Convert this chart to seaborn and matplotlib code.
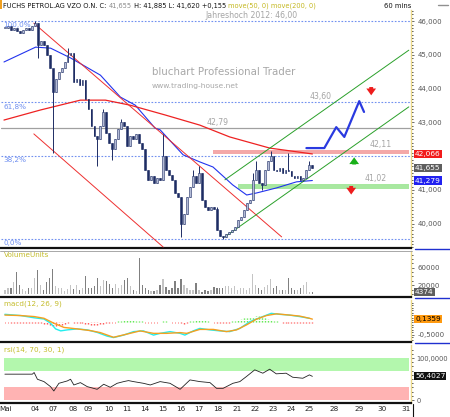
import numpy as np
import seaborn as sns
import matplotlib.pyplot as plt
from matplotlib.lines import Line2D
from matplotlib.patches import Rectangle

sns.set_theme(style="white")
plt.rcParams['font.family'] = ['DejaVu Sans']
plt.rcParams['font.size'] = 5

# ---- Kursdaten: Stundenkerzen, 6 pro Handelstag ----
close = [
    45.80, 45.85, 45.75, 45.80, 45.70, 45.65, 45.75, 45.80, 45.75, 45.85,
    45.95, 45.30, 45.40, 45.30, 45.00, 44.60, 43.90, 44.30, 44.50, 44.60,
    44.80, 45.00, 45.05, 44.20, 44.30, 44.10, 44.25, 43.70, 43.40, 42.90,
    42.60, 42.50, 42.90, 43.30, 42.70, 42.40, 42.20, 42.50, 42.80, 43.00,
    42.90, 42.30, 42.60, 42.50, 42.65, 42.40, 42.20, 41.60, 41.30, 41.40,
    41.20, 41.35, 41.30, 42.00, 41.60, 41.45, 41.30, 40.90, 40.80, 40.00,
    40.30, 40.80, 41.10, 41.40, 41.20, 41.50, 40.70, 40.50, 40.40, 40.50,
    40.45, 39.80, 39.65, 39.60, 39.70, 39.75, 39.80, 39.90, 40.10, 40.20,
    40.40, 40.60, 40.70, 41.30, 41.60, 41.20, 41.15, 41.60, 41.85, 42.00,
    41.60, 41.55, 41.65, 41.50, 41.60, 41.55, 41.40, 41.35, 41.40, 41.30,
    41.35, 41.60, 41.75, 41.655]
first_open = 45.80
wick_hi = {10: 46.00, 16: 44.20, 21: 45.20, 33: 43.40, 39: 43.10, 53: 42.65,
           63: 41.60, 65: 41.70, 71: 40.50, 83: 41.50, 84: 41.85, 89: 42.15,
           95: 42.10, 102: 41.85}
wick_lo = {11: 44.90, 16: 42.10, 31: 41.70, 36: 41.90, 59: 39.60, 73: 39.55,
           86: 41.00, 100: 41.25}

volume = [10, 13, 13, 28, 50, 20, 12, 6, 13, 13,
          37, 55, 21, 8, 28, 36, 56, 18, 13, 13,
          6, 12, 20, 12, 21, 8, 13, 40, 13, 13,
          18, 37, 18, 32, 29, 23, 13, 23, 13, 21,
          32, 36, 18, 8, 6, 82, 20, 13, 8, 6,
          6, 10, 21, 34, 16, 10, 13, 29, 13, 35,
          21, 13, 8, 10, 24, 10, 5, 8, 6, 8,
          16, 13, 13, 13, 18, 18, 13, 18, 8, 13,
          13, 8, 13, 45, 20, 13, 8, 16, 20, 34,
          13, 18, 10, 8, 10, 37, 13, 10, 8, 13,
          20, 28, 5, 4.374]  # Tausend Stueck

# gleitende Durchschnitte
ma50_x = [-0.3, 10.3, 15.3, 22, 32, 38.7, 43.7, 50.3, 52, 59.7, 65.3, 69.7,
          76.3, 81, 84.3, 91, 97.7, 103]
ma50 = [44.79, 45.23, 45.20, 44.91, 44.40, 43.75, 43.51, 42.83, 42.78, 42.04,
        41.83, 41.68, 41.15, 40.85, 40.91, 41.06, 41.24, 41.279]
ma200_x = [-0.3, 12, 25.3, 33.7, 42, 53.7, 65.3, 75.3, 88.7, 103]
ma200 = [43.07, 43.37, 43.66, 43.66, 43.51, 43.22, 42.92, 42.57, 42.24, 42.066]

# Trendkanaele
red_x = [9.7, 92.7]
red_upper = [45.94, 39.61]
red_lower_x = [9.7, 53]
red_lower = [42.66, 39.31]
green_x = [73.7, 135.3]
green_upper = [41.30, 45.14]
green_lower = [39.61, 43.46]

# Fibonacci / Marken
fib_levels = [46.00, 43.60, 42.02, 39.55]
fib_labels = ["100,0%", "61,8%", "38,2%", "0,0%"]
line_4279 = 42.84
resist_band = (42.07, 42.19)
support_band = (41.04, 41.17)
forecast_x = [101, 107, 111, 113.7, 118.7, 120.3]
forecast = [42.24, 42.24, 42.86, 42.57, 43.63, 43.31]

# MACD
macd_x = [0, 5.3, 9.8, 13.1, 15.3, 17, 18.7, 20.9, 24.2, 27.6, 30.9, 34.2, 36.4,
          39.8, 43.1, 46.4, 49.8, 52, 55.3, 58.7, 60.3, 63.1, 65.3, 68.7, 72,
          75.3, 78.7, 82, 86.4, 89.2, 92, 95.3, 98.7, 102]
macd = [0.33, 0.28, 0.19, 0.14, -0.03, -0.26, -0.34, -0.30, -0.26, -0.30, -0.40,
        -0.55, -0.61, -0.51, -0.37, -0.34, -0.51, -0.44, -0.37, -0.44, -0.51,
        -0.34, -0.24, -0.30, -0.34, -0.37, -0.24, 0.03, 0.24, 0.37, 0.33, 0.30,
        0.24, 0.17]
signal_x = [0, 5.3, 9.8, 13.1, 16.4, 19.8, 24.2, 28.7, 32, 36.4, 40.9, 45.3,
            49.8, 54.2, 58.7, 60.9, 65.3, 69.8, 74.2, 77.6, 80.9, 84.2, 87.6,
            91, 95.3, 98.7, 102, 103]
signal = [0.30, 0.28, 0.24, 0.17, -0.03, -0.20, -0.26, -0.33, -0.41, -0.60,
          -0.47, -0.34, -0.44, -0.44, -0.41, -0.44, -0.28, -0.28, -0.37, -0.30,
          -0.10, 0.13, 0.28, 0.35, 0.30, 0.26, 0.17, 0.1359]
hist = ([0, 0] + [-0.02] * 11 +
        [-0.05, -0.08, -0.11, -0.13, -0.14, -0.12, -0.10, -0.07, -0.04] +
        [0.03, -0.02, -0.03, -0.02] +
        [-0.04, -0.06, -0.08, -0.09, -0.10, -0.10, -0.08, -0.06, -0.04, -0.02] +
        [0, 0] + [0.04, 0.07, 0.09, 0.10, 0.10, 0.09, 0.08, 0.06, 0.04] +
        [0] * 5 + [0.03, 0.04, 0.04, 0.03] + [0, 0, 0] + [-0.04, -0.06, -0.04] +
        [0.04, 0.08, 0.10, 0.12, 0.11, 0.09, 0.06, 0.03] + [0] +
        [-0.02, -0.03, -0.03, -0.03, -0.02] +
        [0.04, 0.07, 0.10, 0.14, 0.17, 0.20, 0.22, 0.24, 0.25, 0.26, 0.24, 0.20,
         0.16, 0.12, 0.08, 0.05, 0.03] +
        [-0.02] + [-0.03] * 9 + [-0.02])

# RSI
rsi_x = [0, 9.2, 9.8, 10.9, 13.1, 15.3, 16.4, 18.1, 20.9, 22, 23.1, 25.3, 27.6,
         30.9, 33.1, 35.3, 37.6, 39.8, 41.4, 43.1, 46.4, 48.7, 52, 55.3, 58.7,
         62, 65.3, 68.7, 70.9, 73.1, 76.4, 78.7, 80.9, 83.7, 86.4, 88.7, 90.9,
         94.2, 96.4, 99.8, 102, 103]
rsi = [61.6, 61.6, 65.5, 49.5, 43.9, 31.9, 21.6, 39.9, 45.5, 49.5, 35.9, 41.5,
       31.9, 25.6, 37.6, 30.4, 39.9, 43.9, 46.3, 43.9, 39.9, 35.9, 43.9, 39.9,
       25.6, 47.9, 43.9, 41.5, 27.9, 27.9, 39.9, 43.9, 55.9, 71.9, 63.9, 73.5,
       62.4, 63.9, 54.3, 51.9, 59.9, 56.4027]

day_ticks = [0.3, 10.3, 16.3, 22.7, 28, 34.7, 40.7, 46.7, 53, 59, 65, 71.3,
             77.7, 83.7, 89.7, 96, 102, 110.3, 118.7, 126.3, 134.3]
day_labels = ["Mai", "04", "07", "08", "09", "10", "11", "14", "15", "16", "17",
              "18", "21", "22", "23", "24", "25", "28", "29", "30", "31"]

# ---- Layout ----
W, H = 450, 417
fig = plt.figure(figsize=(4.5, 4.17), dpi=100)
fig.patch.set_facecolor('white')


def panel(top, bottom):
    return [0.002, 1 - bottom / H, 410 / W, (bottom - top) / H]


ax = fig.add_axes(panel(10, 248))
axv = fig.add_axes(panel(251, 297), sharex=ax)
axm = fig.add_axes(panel(300, 342), sharex=ax)
axr = fig.add_axes(panel(345, 403), sharex=ax)

lab_col = '#555555'
head_col = '#c4bc2c'
for a in (ax, axv, axm, axr):
    a.set_facecolor('white')
    for s in ('top', 'left'):
        a.spines[s].set_visible(False)
    a.spines['bottom'].set_color('#111111')
    a.spines['bottom'].set_linewidth(1.6)
    a.spines['right'].set_color('#ecd98a')
    a.spines['right'].set_linewidth(1.0)
    a.yaxis.tick_right()
    a.tick_params(axis='y', which='major', length=2, width=0.6, pad=3,
                  colors=lab_col, labelsize=5.0)
    a.tick_params(axis='y', which='minor', length=1.5, width=0.6, colors='#333333')
    a.tick_params(axis='x', length=0, labelbottom=False)
    a.grid(False)

# ---- Hauptchart ----
idx = np.arange(len(close))
opens = np.array([first_open] + close[:-1])
closes = np.array(close)
up = closes >= opens
body_lo = np.minimum(opens, closes)
body_h = np.maximum(np.abs(closes - opens), 0.02)
highs = np.maximum(opens, closes)
lows = np.minimum(opens, closes)
for k, v in wick_hi.items():
    highs[k] = v
for k, v in wick_lo.items():
    lows[k] = v
navy = '#1e2d64'
ax.vlines(idx, lows, highs, color=navy, lw=0.7, zorder=4)
ax.bar(idx, body_h, bottom=body_lo, width=0.62,
       color=np.where(up, '#b4bcd8', navy), edgecolor=navy, linewidth=0.4, zorder=5)

sns.lineplot(x=ma50_x, y=ma50, ax=ax, color='#2233ee', lw=0.8, sort=False, estimator=None, zorder=3)
sns.lineplot(x=ma200_x, y=ma200, ax=ax, color='#ee2222', lw=0.9, sort=False, estimator=None, zorder=3)
ax.plot(red_x, red_upper, color='#ee3030', lw=0.7, zorder=3)
ax.plot(red_lower_x, red_lower, color='#ee3030', lw=0.7, zorder=3)
ax.plot(green_x, green_upper, color='#2aa02a', lw=0.7, zorder=3)
ax.plot(green_x, green_lower, color='#2aa02a', lw=0.7, zorder=3)

for lv, lb in zip(fib_levels, fib_labels):
    ax.axhline(lv, color='#7090f0', lw=0.8, ls=(0, (1.5, 1.5)), zorder=2)
    ax.text(-0.6, lv - 0.04, lb, color='#6f8ff0', fontsize=5.2, ha='left', va='top', zorder=6)
ax.axhline(line_4279, color='#a0a0a0', lw=0.9, zorder=2)
ax.fill_between([69.7, 135.3], *resist_band, color='#f4a8a8', lw=0, zorder=2)
ax.fill_between([78, 135.3], *support_band, color='#a8e8a0', lw=0, zorder=2)
sns.lineplot(x=forecast_x, y=forecast, ax=ax, color='#2a3ae0', lw=1.6, sort=False, estimator=None, zorder=6)

grey_txt = '#a4a4a4'
ax.text(82.7, 46.03, "Jahreshoch 2012: 46,00", color=grey_txt, fontsize=5.6, ha='center', va='bottom')
ax.text(105.7, 43.63, "43,60", color=grey_txt, fontsize=5.6, ha='center', va='bottom')
ax.text(71.3, 42.87, "42,79", color=grey_txt, fontsize=5.6, ha='center', va='bottom')
ax.text(126, 42.21, "42,11", color=grey_txt, fontsize=5.6, ha='center', va='bottom')
ax.text(124.3, 41.20, "41,02", color=grey_txt, fontsize=5.6, ha='center', va='bottom')
ax.text(49.3, 44.49, "bluchart Professional Trader", color='#a8a8a8', fontsize=7.4, ha='left', va='center')
ax.text(49.3, 44.08, "www.trading-house.net", color='#a8a8a8', fontsize=5.4, ha='left', va='center')

arrow = dict(arrowstyle='simple,head_width=1.0,head_length=0.7,tail_width=0.4', lw=0)
ax.annotate('', xy=(122.7, 43.72), xytext=(122.7, 44.13),
            arrowprops=dict(arrow, color='#ee1c1c', mutation_scale=7), zorder=7)
ax.annotate('', xy=(117, 42.05), xytext=(117, 41.67),
            arrowprops=dict(arrow, color='#19b019', mutation_scale=7), zorder=7)
ax.annotate('', xy=(116, 40.78), xytext=(116, 41.20),
            arrowprops=dict(arrow, color='#ee1c1c', mutation_scale=7), zorder=7)

ax.set_ylim(39.28, 46.33)
ax.set_yticks([40, 41, 43, 44, 45, 46])
ax.set_yticklabels(["40,000", "41,000", "43,000", "44,000", "45,000", "46,000"])
ax.set_yticks(np.arange(39.3, 46.35, 0.1), minor=True)


def tag(a, yval, s, fc, tc='white'):
    a.text(1.01, yval, s, transform=a.get_yaxis_transform(), ha='left', va='center',
           color=tc, fontsize=5.3, clip_on=False, zorder=8,
           bbox=dict(boxstyle='square,pad=0.15', fc=fc, ec='none'))


tag(ax, 42.066, "42,066", '#f21b1b')
tag(ax, 41.655, "41,655", '#5e5e5e')
tag(ax, 41.279, "41,279", '#2121f0')

# ---- Volumen ----
axv.bar(idx, np.array(volume) * 1000, width=0.45, linewidth=0, edgecolor='none',
        color=np.where(up, '#c4c4c4', '#808080'), zorder=3)
axv.set_ylim(-7000, 98000)
axv.set_yticks([20000, 60000])
axv.set_yticklabels(["20000", "60000"])
axv.set_yticks(np.arange(0, 98000, 10000), minor=True)
axv.text(0.008, 0.98, "VolumeUnits", transform=axv.transAxes, color=head_col, fontsize=5.2, va='top')
tag(axv, 4374, "4374", '#5e5e5e')

# ---- MACD ----
hist_arr = np.array(hist)
axm.vlines(idx[hist_arr < 0], hist_arr[hist_arr < 0], 0, color='#ff4c4c', lw=1.0, ls=(0, (1, 1)), zorder=2)
axm.vlines(idx[hist_arr > 0], 0, hist_arr[hist_arr > 0], color='#55e845', lw=1.0, ls=(0, (1, 1)), zorder=2)
axm.vlines(idx[hist_arr == 0], -0.015, 0.015, color='#ff6a6a', lw=0.7, zorder=2)
sns.lineplot(x=macd_x, y=macd, ax=axm, color='#22eeee', lw=1.0, sort=False, estimator=None, zorder=3)
sns.lineplot(x=signal_x, y=signal, ax=axm, color='#f5a020', lw=1.0, sort=False, estimator=None, zorder=4)
axm.set_ylim(-0.79, 0.91)
axm.set_yticks([-0.5])
axm.set_yticklabels(["-0,5000"])
axm.set_yticks(np.arange(-0.7, 0.9, 0.1), minor=True)
axm.text(0.008, 0.98, "macd(12, 26, 9)", transform=axm.transAxes, color=head_col, fontsize=5.2, va='top')
tag(axm, 0.1359, "0,1359", '#ff9a10', tc='black')

# ---- RSI ----
axr.axhspan(70, 100, xmin=0.008, xmax=0.995, color='#b3f7ad', lw=0, zorder=1)
axr.axhspan(0, 30, xmin=0.008, xmax=0.995, color='#ffb3b3', lw=0, zorder=1)
sns.lineplot(x=rsi_x, y=rsi, ax=axr, color='#222222', lw=0.6, sort=False, estimator=None, zorder=3)
axr.set_ylim(-7, 131)
axr.set_yticks([0, 100])
axr.set_yticklabels(["0", "100,0000"])
axr.set_yticks(np.arange(0, 130, 10), minor=True)
axr.tick_params(axis='y', which='major', pad=2, labelsize=4.8)
axr.text(0.008, 0.98, "rsi(14, 70, 30, 1)", transform=axr.transAxes, color=head_col, fontsize=5.2, va='top')
tag(axr, 56.4027, "56,4027", '#111111')

axr.set_xticks(day_ticks)
axr.set_xticklabels(day_labels)
axr.tick_params(axis='x', labelbottom=True, length=0, pad=2.5, labelsize=5.2, colors='#222222')
for a in (ax, axv, axm, axr):
    a.set_xlabel('')
    a.set_ylabel('')
ax.set_xlim(-1.33, 136)

# ---- Kopfzeile ----
parts = [("FUCHS PETROL.AG VZO O.N. C: ", '#111111'), ("41,655", '#8a8a8a'),
         (" H: 41,885 L: 41,620 +0,155 ", '#111111'), ("move(50, 0) move(200, 0)", '#c4b820')]
t = fig.text(3 / W, 1 - 9 / H, parts[0][0], color=parts[0][1], fontsize=4.75, ha='left', va='bottom')
for s, c in parts[1:]:
    t = ax.annotate(s, xy=(1, 0), xycoords=t, color=c, fontsize=4.75, ha='left', va='bottom',
                    annotation_clip=False)
fig.text(411 / W, 1 - 9 / H, "60 mins", color='#111111', fontsize=4.9, ha='right', va='bottom')

# Rahmen rechts
for y in (249, 298, 343):
    fig.add_artist(Line2D([415 / W, 1], [1 - y / H] * 2, color='#2030d0', lw=1.0))
fig.add_artist(Line2D([413 / W, 413 / W], [0, 1 - 404 / H], color='#111111', lw=0.8))
fig.add_artist(Line2D([0, 412 / W], [1 - 250.5 / H] * 2, color='#9a9a9a', lw=0.6))
fig.add_artist(Rectangle((0, 1 - 9 / H), 2 / W, 9 / H, color='#f0a020', lw=0))
fig.add_artist(Line2D([438 / W, 448 / W], [1 - 5 / H] * 2, color='#909090', lw=1.0))

fig.savefig('out.png', dpi=100, facecolor='white')
